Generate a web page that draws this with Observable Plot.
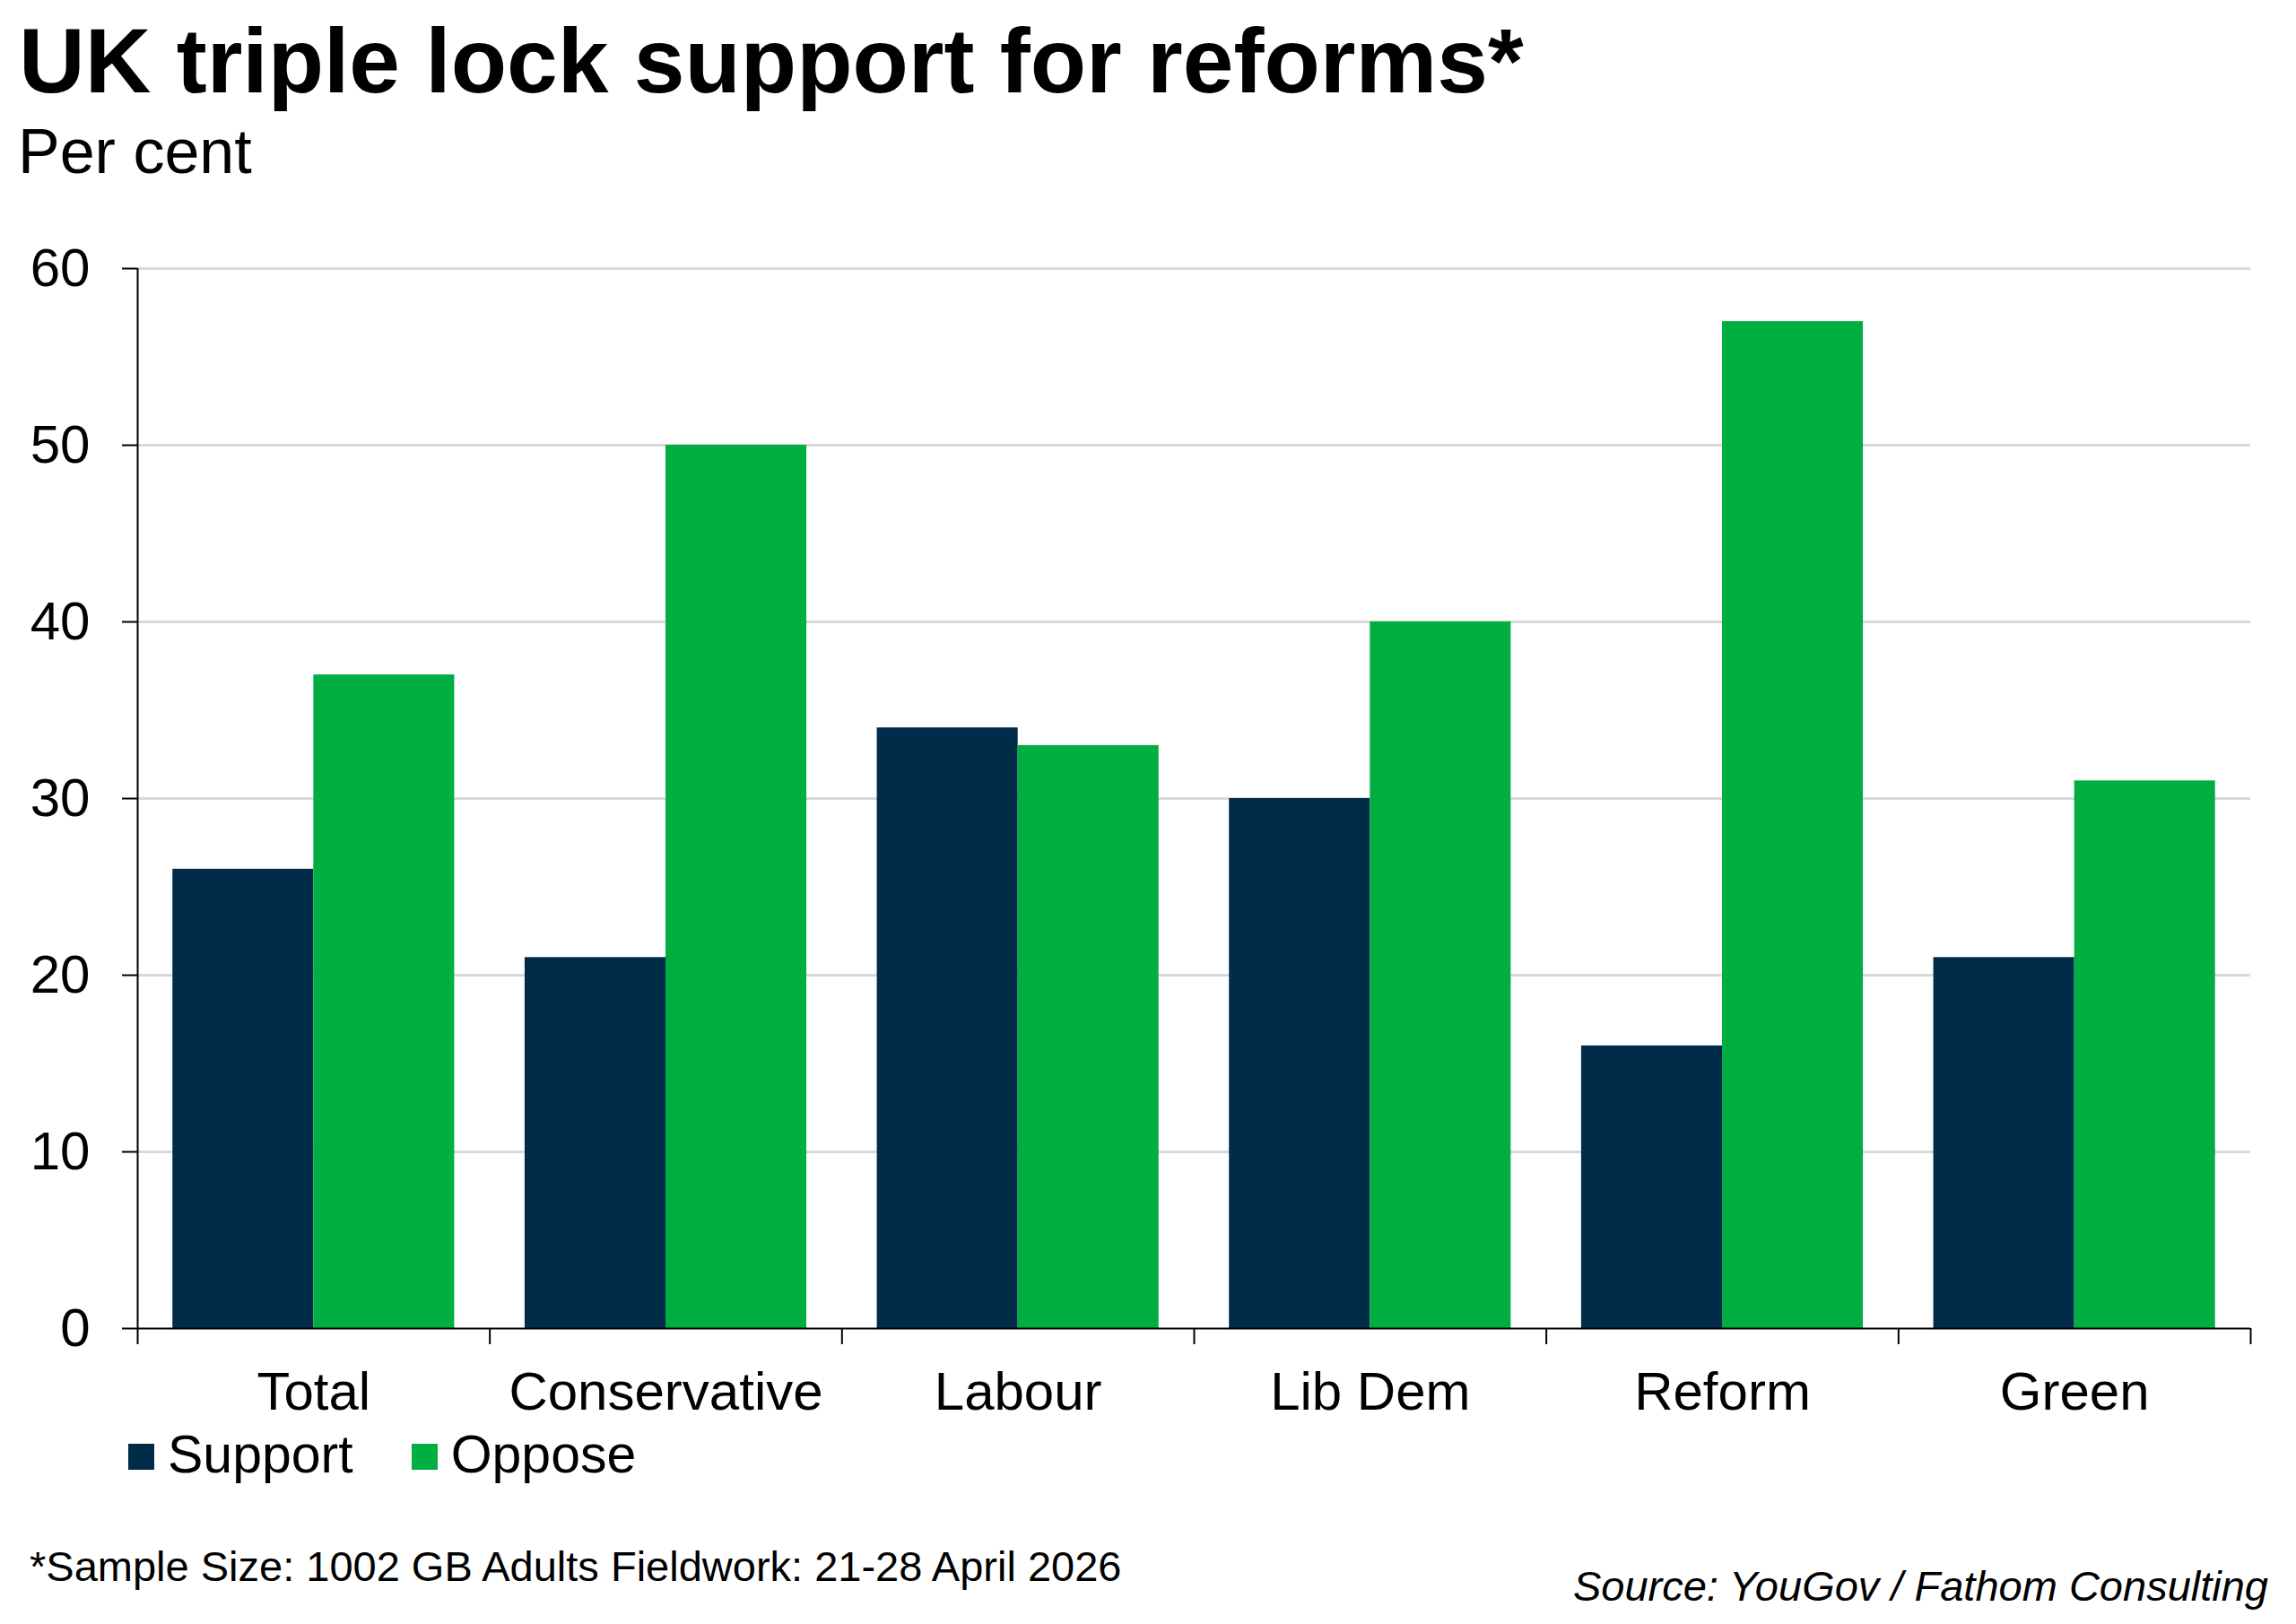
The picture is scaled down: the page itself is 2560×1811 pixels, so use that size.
<!DOCTYPE html>
<html>
<head>
<meta charset="utf-8">
<script src="https://cdn.jsdelivr.net/npm/d3@7"></script>
<script src="https://cdn.jsdelivr.net/npm/@observablehq/plot@0.6"></script>
<style>
  html, body { margin: 0; padding: 0; background: #ffffff; }
  body { width: 2560px; height: 1811px; position: relative; overflow: hidden; font-family: "Liberation Sans", Arial, Helvetica, sans-serif; color: #000; }
  .abs { position: absolute; line-height: 1; white-space: nowrap; }
  #title { left: 21px; top: 17px; font-size: 102px; font-weight: bold; }
  #subtitle { left: 20px; top: 134px; font-size: 70px; }
  #legend { left: 143px; top: 1593px; font-size: 59px; display: flex; align-items: center; }
  .sw { display: inline-block; width: 29px; height: 29px; margin-right: 15px; position: relative; top: 2px; }
  .item { display: inline-flex; align-items: center; margin-right: 65px; }
  #foot { left: 33px; top: 1723px; font-size: 47px; }
  #source { right: 31px; top: 1745px; font-size: 47px; font-style: italic; }
  #chart { position: absolute; left: 0; top: 230px; }
</style>
</head>
<body>
<div id="title" class="abs">UK triple lock support for reforms*</div>
<div id="subtitle" class="abs">Per cent</div>
<div id="chart"></div>
<div id="legend" class="abs"></div>
<div id="foot" class="abs">*Sample Size: 1002 GB Adults Fieldwork: 21-28 April 2026</div>
<div id="source" class="abs">Source: YouGov / Fathom Consulting</div>
<script>
const categories = ["Total", "Conservative", "Labour", "Lib Dem", "Reform", "Green"];
const supportValues = [26, 21, 34, 30, 16, 21];
const opposeValues = [37, 50, 33, 40, 57, 31];
const seriesNames = ["Support", "Oppose"];
const seriesColors = ["#002B49", "#00AE42"];
const yTicks = [0, 10, 20, 30, 40, 50, 60];

const supportRows = categories.map((c, i) => ({category: c, value: supportValues[i]}));
const opposeRows = categories.map((c, i) => ({category: c, value: opposeValues[i]}));

const W = 2560, H = 1370;
const mL = 153, mR = 51, mT = 69, mB = 119;
const bw = (W - mL - mR) / categories.length;

const chart = Plot.plot({
  width: W,
  height: H,
  marginLeft: mL,
  marginRight: mR,
  marginTop: mT,
  marginBottom: mB,
  style: {fontFamily: '"Liberation Sans", Arial, sans-serif', fontSize: "60px", color: "#000", background: "#fff"},
  x: {domain: categories, padding: 0, round: false, label: null},
  y: {domain: [0, d3.max(yTicks)], label: null},
  marks: [
    Plot.gridY(yTicks.filter(t => t > 0), {stroke: "#d9d9d9", strokeOpacity: 1, strokeWidth: 3}),
    Plot.barY(supportRows, {x: "category", y: "value", fill: seriesColors[0], insetLeft: 0.1 * bw, insetRight: 0.5 * bw}),
    Plot.barY(opposeRows, {x: "category", y: "value", fill: seriesColors[1], insetLeft: 0.5 * bw, insetRight: 0.1 * bw}),
    Plot.axisY({ticks: yTicks, tickSize: 17, tickPadding: 36, fontSize: 60, stroke: "#000", strokeWidth: 2, label: null}),
    Plot.axisX({tickSize: 0, tickPadding: 48, fontSize: 60, label: null}),
    Plot.ruleY([0], {stroke: "#000", strokeWidth: 2}),
    // y axis line (left edge of first band), extending into the first boundary tick
    Plot.ruleX([categories[0]], {x: d => d, y1: d3.max(yTicks), y2: 0, insetBottom: -18, dx: -bw / 2, stroke: "#000", strokeWidth: 2}),
    // category boundary ticks
    Plot.ruleX(categories.slice(1), {x: d => d, y1: 0, y2: 0, insetBottom: -18, dx: -bw / 2, stroke: "#000", strokeWidth: 2}),
    Plot.ruleX([categories[categories.length - 1]], {x: d => d, y1: 0, y2: 0, insetBottom: -18, dx: bw / 2, stroke: "#000", strokeWidth: 2})
  ]
});
document.getElementById("chart").appendChild(chart);

const legend = document.getElementById("legend");
seriesNames.forEach((name, i) => {
  const item = document.createElement("span");
  item.className = "item";
  const sw = document.createElement("span");
  sw.className = "sw";
  sw.style.background = seriesColors[i];
  item.appendChild(sw);
  item.appendChild(document.createTextNode(name));
  legend.appendChild(item);
});
</script>
</body>
</html>
